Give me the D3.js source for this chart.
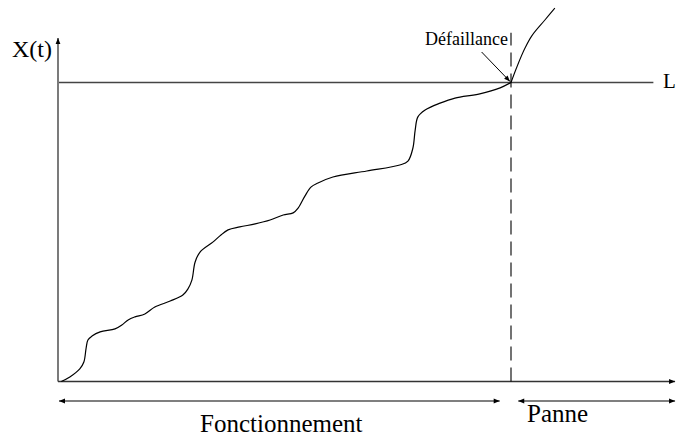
<!DOCTYPE html>
<html>
<head>
<meta charset="utf-8">
<script src="https://cdn.jsdelivr.net/npm/d3@7"></script>
<style>
  html, body { margin: 0; padding: 0; background: #fff; }
  svg { display: block; font-family: "Liberation Serif", "Times New Roman", serif; }
</style>
</head>
<body>
<svg id="chart" width="676" height="436"></svg>
<script>
// ---- data (t in arbitrary time units, X in % of threshold L) ----
const tValues = [0.5, 2.4, 4.6, 5.5, 6.0, 6.4, 7.3, 9.1, 12.4, 13.9, 15.3, 16.8, 19.0, 21.2, 24.6, 27.4, 28.5, 29.4, 30.1, 31.2, 34.1, 35.6, 37.4, 40.0, 43.4, 46.7, 49.6, 51.8, 52.9, 54.4, 55.8, 57.3, 60.6, 68.1, 75.4, 77.2, 78.3, 78.8, 79.4, 81.0, 84.3, 87.6, 93.1, 97.6, 100];
const xValues = [0, 1.5, 4.2, 6.5, 11.2, 13.9, 15.2, 16.6, 17.6, 18.9, 20.6, 21.6, 22.6, 24.9, 26.9, 28.9, 30.9, 33.9, 39.9, 43.3, 46.7, 48.7, 50.7, 51.7, 52.7, 54.0, 55.7, 56.4, 58.0, 62.0, 65.1, 66.4, 68.4, 70.4, 72.4, 73.7, 78.1, 84.1, 88.5, 90.8, 93.1, 94.8, 96.2, 98.2, 100];
const afterT = [100, 101.3, 103.1, 104.6, 107.5, 109.7];
const afterX = [100, 105.2, 111.5, 115.6, 120.9, 124.9];
const thresholdL = 100;
const failureT = 100;
const tMax = 136.3;
const xMax = 114.9;
const labels = { yAxis: "X(t)", threshold: "L", failure: "Défaillance", running: "Fonctionnement", down: "Panne" };

// ---- scales ----
const x = d3.scaleLinear().domain([0, 100]).range([59, 511]);
const y = d3.scaleLinear().domain([0, 100]).range([381.5, 82.5]);

const svg = d3.select("#chart");
const defs = svg.append("defs");
function marker(id) {
  defs.append("marker").attr("id", id)
    .attr("viewBox", "0 0 10 10").attr("refX", 10).attr("refY", 5)
    .attr("markerWidth", 7).attr("markerHeight", 6).attr("markerUnits", "userSpaceOnUse")
    .attr("orient", "auto-start-reverse")
    .append("path").attr("d", "M0,1 L10,5 L0,9 Z").attr("fill", "#000");
}
marker("arr");

const axisColor = "#333";

// y axis
svg.append("line")
  .attr("x1", x(0) - 1).attr("x2", x(0) - 1)
  .attr("y1", y(0)).attr("y2", y(xMax))
  .attr("stroke", axisColor).attr("stroke-width", 1.3)
  .attr("marker-end", "url(#arr)");
// x axis
svg.append("line")
  .attr("x1", x(0) - 1).attr("x2", x(tMax))
  .attr("y1", y(0)).attr("y2", y(0))
  .attr("stroke", axisColor).attr("stroke-width", 1.3)
  .attr("marker-end", "url(#arr)");
// threshold L
svg.append("line")
  .attr("x1", x(0)).attr("x2", x(131.5))
  .attr("y1", y(thresholdL)).attr("y2", y(thresholdL))
  .attr("stroke", "#444").attr("stroke-width", 1.3);
// failure dashed line
svg.append("line")
  .attr("x1", x(failureT)).attr("x2", x(failureT))
  .attr("y1", y(0)).attr("y2", y(116.6))
  .attr("stroke", "#000").attr("stroke-width", 1.1)
  .attr("stroke-dasharray", "14,7");

// curve
const line = d3.line()
  .x(d => x(d[0])).y(d => y(d[1]))
  .curve(d3.curveCatmullRom.alpha(0.5));
svg.append("path")
  .datum(tValues.map((t, i) => [t, xValues[i]]))
  .attr("d", line).attr("fill", "none")
  .attr("stroke", "#000").attr("stroke-width", 1.2);
svg.append("path")
  .datum(afterT.map((t, i) => [t, afterX[i]]))
  .attr("d", line).attr("fill", "none")
  .attr("stroke", "#000").attr("stroke-width", 1.1);

// failure annotation arrow
svg.append("line")
  .attr("x1", x(93.5)).attr("y1", y(110.2))
  .attr("x2", x(failureT) - 1).attr("y2", y(thresholdL) - 1)
  .attr("stroke", "#000").attr("stroke-width", 1)
  .attr("marker-end", "url(#arr)");

// bottom range arrows
const yArr = 401;
svg.append("line")
  .attr("x1", x(0)).attr("x2", x(97.5))
  .attr("y1", yArr).attr("y2", yArr)
  .attr("stroke", "#000").attr("stroke-width", 1.2)
  .attr("marker-start", "url(#arr)").attr("marker-end", "url(#arr)");
svg.append("line")
  .attr("x1", x(101.6)).attr("x2", x(tMax))
  .attr("y1", yArr).attr("y2", yArr)
  .attr("stroke", "#000").attr("stroke-width", 1.2)
  .attr("marker-start", "url(#arr)").attr("marker-end", "url(#arr)");

// texts
svg.append("text").attr("x", 12).attr("y", 57).attr("font-size", 24).text(labels.yAxis);
svg.append("text").attr("x", 663).attr("y", 88).attr("font-size", 21).text(labels.threshold);
svg.append("text").attr("x", 508).attr("y", 45).attr("font-size", 18)
  .attr("text-anchor", "end").text(labels.failure);
svg.append("text").attr("x", 200).attr("y", 432).attr("font-size", 25).text(labels.running);
svg.append("text").attr("x", 527).attr("y", 422).attr("font-size", 25).text(labels.down);
</script>
</body>
</html>
